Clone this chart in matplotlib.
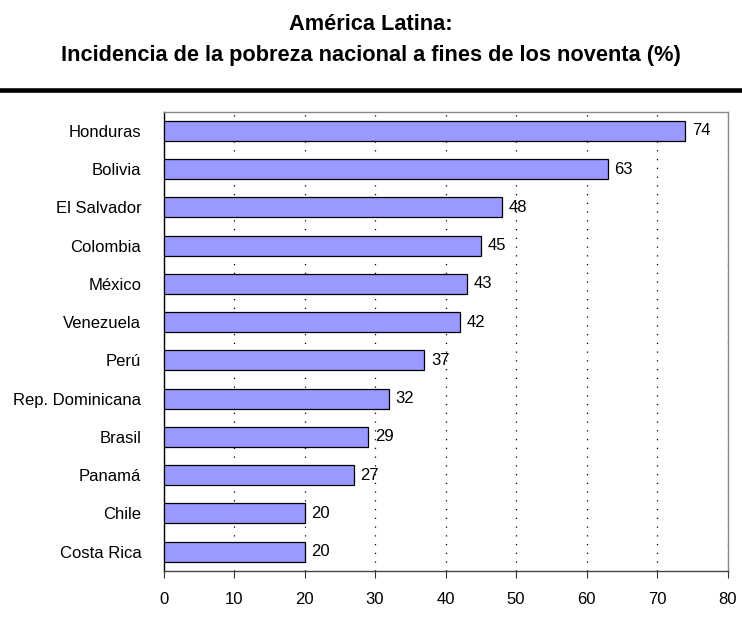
import matplotlib
matplotlib.use("Agg")
import matplotlib.pyplot as plt
import numpy as np

paises = ["Honduras", "Bolivia", "El Salvador", "Colombia", "México", "Venezuela",
          "Perú", "Rep. Dominicana", "Brasil", "Panamá", "Chile", "Costa Rica"]
pobreza = [74, 63, 48, 45, 43, 42, 37, 32, 29, 27, 20, 20]
xticks = [0, 10, 20, 30, 40, 50, 60, 70, 80]

plt.rcParams['font.family'] = ['Liberation Sans', 'DejaVu Sans']

fig = plt.figure(figsize=(7.42, 6.27), dpi=100)
fig.text(0.5, 1 - 30.5 / 627, "América Latina:", ha='center', va='baseline',
         fontsize=15.7, fontweight='bold')
fig.text(0.5, 1 - 61.5 / 627, "Incidencia de la pobreza nacional a fines de los noventa (%)",
         ha='center', va='baseline', fontsize=15.7, fontweight='bold')
fig.add_artist(plt.Line2D([0, 1], [1 - 89.7 / 627] * 2, color='black', lw=3.3))

ax = fig.add_axes([163.5 / 742, 1 - 570.7 / 627, (727.5 - 163.5) / 742, (570.7 - 111.7) / 627])
y = np.arange(len(paises))
ax.barh(y, pobreza, height=0.52, color='#9999FF', edgecolor='black', linewidth=0.9, zorder=3)
for yi, v in zip(y, pobreza):
    ax.text(v + 0.95, yi, str(v), va='center', ha='left', fontsize=12, zorder=4)

ax.set_xlim(0, 80)
ax.set_ylim(len(paises) - 0.5, -0.5)
ax.set_xticks(xticks)
ax.set_xticklabels([str(t) for t in xticks], fontsize=12)
ax.set_yticks(y)
ax.set_yticklabels(paises, fontsize=12)
ax.tick_params(axis='y', length=0, pad=16)
ax.tick_params(axis='x', length=5, width=0.8, pad=10, color='#333333')
ax.xaxis.grid(True, linestyle=(0, (1, 6)), color='black', lw=0.9, zorder=1)
ax.set_axisbelow(True)

for s in ['top', 'right']:
    ax.spines[s].set_color('#888888')
ax.spines['bottom'].set_color('#444444')
ax.spines['left'].set_color('black')
for s in ax.spines.values():
    s.set_linewidth(1)

fig.savefig("out.png", dpi=100)
